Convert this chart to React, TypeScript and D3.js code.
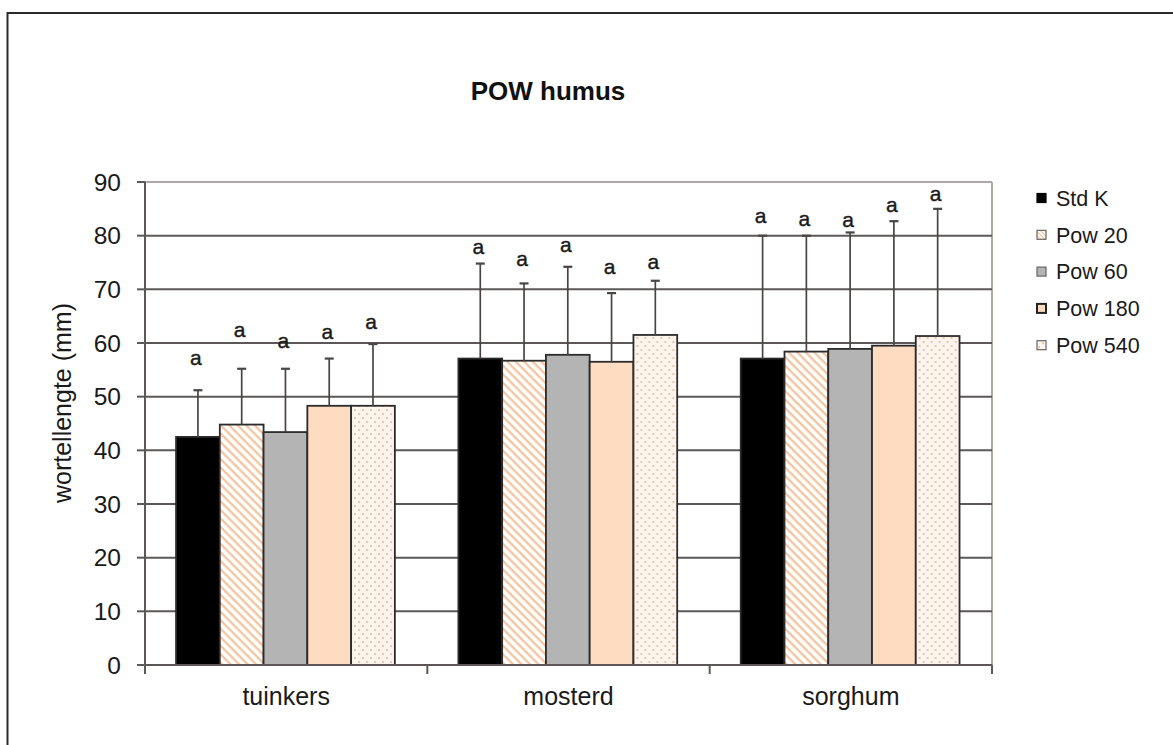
import React from "react";
import * as d3 from "d3";

const categories = ["tuinkers", "mosterd", "sorghum"];
const seriesNames = ["Std K", "Pow 20", "Pow 60", "Pow 180", "Pow 540"];
const meanStdK = [42.5, 57.1, 57.1];
const meanPow20 = [44.8, 56.7, 58.4];
const meanPow60 = [43.4, 57.8, 58.9];
const meanPow180 = [48.3, 56.5, 59.5];
const meanPow540 = [48.3, 61.5, 61.3];
const sdStdK = [8.7, 17.7, 22.9];
const sdPow20 = [10.4, 14.4, 21.6];
const sdPow60 = [11.8, 16.4, 21.7];
const sdPow180 = [8.8, 12.8, 23.2];
const sdPow540 = [11.5, 10.1, 23.7];
const letterStdK = ["a", "a", "a"];
const letterPow20 = ["a", "a", "a"];
const letterPow60 = ["a", "a", "a"];
const letterPow180 = ["a", "a", "a"];
const letterPow540 = ["a", "a", "a"];
// vertical position (in axis units) at which each significance letter is written
const letterYStdK = [57.2, 77.9, 83.8];
const letterYPow20 = [62.4, 75.8, 83.2];
const letterYPow60 = [60.4, 78.3, 82.9];
const letterYPow180 = [62.2, 74.2, 85.7];
const letterYPow540 = [63.9, 75.1, 87.9];
const yTicks = [0, 10, 20, 30, 40, 50, 60, 70, 80, 90];

const means = [meanStdK, meanPow20, meanPow60, meanPow180, meanPow540];
const sds = [sdStdK, sdPow20, sdPow60, sdPow180, sdPow540];
const letters = [letterStdK, letterPow20, letterPow60, letterPow180, letterPow540];
const letterYs = [letterYStdK, letterYPow20, letterYPow60, letterYPow180, letterYPow540];
const fills = ["#000000", "url(#stripes)", "#b4b4b4", "#fddcc2", "url(#dots)"];

const FONT = "'Liberation Sans', Arial, Helvetica, sans-serif";

export default function App() {
  const W = 1173;
  const H = 745;
  const left = 145;
  const right = 992;
  const top = 182;
  const bottom = 665;

  const x0 = d3.scaleBand<string>().domain(categories).range([left, right]).paddingInner(0).paddingOuter(0);
  const bw = x0.bandwidth();
  const x1 = d3
    .scaleBand<string>()
    .domain(seriesNames)
    .range([bw * 0.11, bw * 0.885])
    .padding(0);
  const y = d3.scaleLinear().domain([0, 90]).range([bottom, top]);

  const gridColor = "#5c5858";
  const legendY0 = 198;
  const legendStep = 36.8;
  const textColor = "#1a1a1a";

  return (
    <svg
      width={W}
      height={H}
      style={{ position: "absolute", left: 0, top: 0, background: "#ffffff" }}
      fontFamily={FONT}
    >
      <defs>
        <pattern id="stripes" patternUnits="userSpaceOnUse" width="6" height="6" patternTransform="rotate(45)">
          <rect width="6" height="6" fill="#ffffff" />
          <rect x="0" y="0" width="6" height="2.4" fill="#f3c6a3" />
        </pattern>
        <pattern id="dots" patternUnits="userSpaceOnUse" width="8" height="8">
          <rect width="8" height="8" fill="#fdf4ee" />
          <circle cx="2" cy="2" r="1" fill="#e4b597" />
          <circle cx="6" cy="6" r="1" fill="#e4b597" />
        </pattern>
        <pattern id="stripesSmall" patternUnits="userSpaceOnUse" width="3" height="3" patternTransform="rotate(45)">
          <rect width="3" height="3" fill="#ffffff" />
          <rect x="0" y="0" width="3" height="1.2" fill="#f3c4a0" />
        </pattern>
      </defs>

      {/* outer frame */}
      <rect x={7.5} y={13} width={1300} height={900} fill="#ffffff" stroke="#2a2a2a" strokeWidth={2} />

      {/* title */}
      <text x={548} y={100} textAnchor="middle" fontSize={26} fontWeight="bold" fill="#111">
        POW humus
      </text>

      {/* plot border top/right */}
      <line x1={left} x2={right} y1={top} y2={top} stroke="#b0a8a4" strokeWidth={2} />
      <line x1={right} x2={right} y1={top} y2={bottom} stroke="#b0a8a4" strokeWidth={2} />

      {/* gridlines */}
      {yTicks
        .filter((t) => t !== 0 && t !== 90)
        .map((t) => (
          <line key={t} x1={left} x2={right} y1={y(t)} y2={y(t)} stroke={gridColor} strokeWidth={2} />
        ))}

      {/* y ticks and labels */}
      {yTicks.map((t) => (
        <g key={"yt" + t}>
          <line x1={left - 8} x2={left} y1={y(t)} y2={y(t)} stroke={gridColor} strokeWidth={2} />
          <text x={121} y={y(t)} dy="0.36em" textAnchor="end" fontSize={24.5} fill={textColor}>
            {t}
          </text>
        </g>
      ))}

      {/* bars */}
      {categories.map((c, ci) => (
        <g key={c} transform={`translate(${x0(c)},0)`}>
          {seriesNames.map((s, si) => {
            const v = means[si][ci];
            const bx = x1(s)!;
            const w = x1.bandwidth();
            return (
              <rect
                key={s}
                x={bx}
                y={y(v)}
                width={w}
                height={y(0) - y(v)}
                fill={fills[si]}
                stroke="#2b2b2b"
                strokeWidth={1.8}
              />
            );
          })}
          {seriesNames.map((s, si) => {
            const v = means[si][ci];
            const e = v + sds[si][ci];
            const cx = x1(s)! + x1.bandwidth() / 2;
            return (
              <g key={"e" + s}>
                <line x1={cx} x2={cx} y1={y(v)} y2={y(e)} stroke="#4a4444" strokeWidth={1.7} />
                <line x1={cx - 4.5} x2={cx + 4.5} y1={y(e)} y2={y(e)} stroke="#4a4444" strokeWidth={2.2} />
              </g>
            );
          })}
          {seriesNames.map((s, si) => {
            const cx = x1(s)! + x1.bandwidth() / 2;
            return (
              <text
                key={"l" + s}
                x={cx - 2}
                y={y(letterYs[si][ci])}
                dy="0.35em"
                textAnchor="middle"
                fontSize={21}
                fill="#1a1a1a"
                stroke="#1a1a1a"
                strokeWidth={0.4}
              >
                {letters[si][ci]}
              </text>
            );
          })}
        </g>
      ))}

      {/* axes */}
      <line x1={left} x2={left} y1={top} y2={bottom} stroke={gridColor} strokeWidth={2} />
      <line x1={left} x2={right} y1={bottom} y2={bottom} stroke={gridColor} strokeWidth={2} />
      {[...categories.map((c) => x0(c)!), right].map((xx, i) => (
        <line key={"xt" + i} x1={xx} x2={xx} y1={bottom} y2={bottom + 9} stroke={gridColor} strokeWidth={2} />
      ))}
      {categories.map((c) => (
        <text key={"xl" + c} x={x0(c)! + bw / 2} y={705} textAnchor="middle" fontSize={25} fill={textColor}>
          {c}
        </text>
      ))}

      {/* y label */}
      <text
        transform={`translate(71,403) rotate(-90)`}
        textAnchor="middle"
        fontSize={25}
        fill={textColor}
      >
        wortellengte (mm)
      </text>

      {/* legend */}
      {seriesNames.map((s, si) => (
        <g key={"lg" + s} transform={`translate(1037,${legendY0 + si * legendStep})`}>
          <rect
            x={0}
            y={-4.5}
            width={9}
            height={9}
            fill={si === 1 ? "url(#stripesSmall)" : fills[si]}
            stroke={si === 0 ? "#000" : si === 3 ? "#222" : "#666"}
            strokeWidth={si === 3 ? 2 : 1.2}
          />
          <text x={19} y={0} dy="0.36em" fontSize={21.5} fill={textColor}>
            {s}
          </text>
        </g>
      ))}
    </svg>
  );
}
